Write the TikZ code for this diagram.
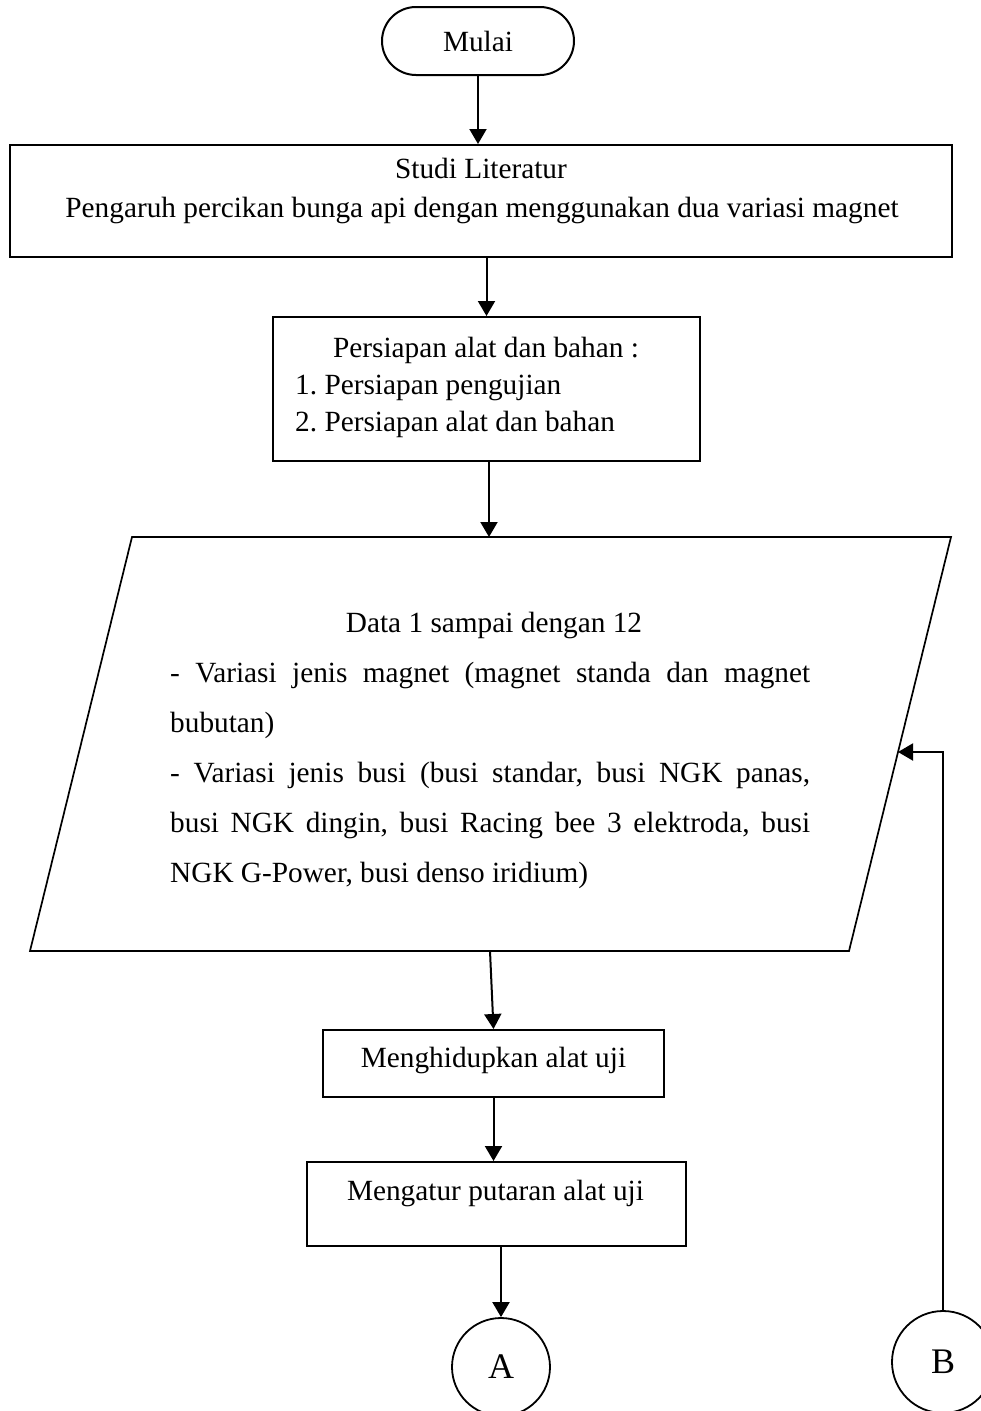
\documentclass[tikz,border=0pt]{standalone}
\usepackage{fontspec}
\setmainfont{Liberation Serif}
\usetikzlibrary{arrows.meta}
\frenchspacing
\begin{document}
\begin{tikzpicture}[x=1pt,y=-1pt,
  txt/.style={font=\fontsize{29.3}{35}\selectfont,inner sep=0pt},
  boxnode/.style={draw,line width=2pt,inner sep=0pt},
  arr/.style={line width=2pt,-{Triangle[width=17pt,length=15pt]}},
  conn/.style={draw,circle,line width=1.8pt,inner sep=0pt,font=\fontsize{36}{40}\selectfont},
  para/.style={line width=1.7pt}]
\useasboundingbox (0,0) rectangle (981,1411);
\clip (0,0) rectangle (981,1411);

% Terminator
\node[boxnode,rounded corners=34pt,minimum width=192pt,minimum height=68pt,txt] (mulai) at (478,41) {Mulai};

% Studi literatur
\node[boxnode,minimum width=942pt,minimum height=112pt] (studi) at (481,201) {};
\node[txt,anchor=base] (studiA) at (481,178) {Studi Literatur};
\node[txt,anchor=base] (studiB) at (482,217) {Pengaruh percikan bunga api dengan menggunakan dua variasi magnet};

% Persiapan
\node[boxnode,minimum width=427pt,minimum height=144pt] (prep) at (486.5,389) {};
\node[txt,anchor=base] (prepA) at (486,357) {Persiapan alat dan bahan :};
\node[txt,anchor=base west] (prepB) at (295,394) {1. Persiapan pengujian};
\node[txt,anchor=base west] (prepC) at (295,431) {2. Persiapan alat dan bahan};

% Parallelogram (data)
\coordinate (p1) at (132,537);
\coordinate (p2) at (951,537);
\coordinate (p3) at (849,951);
\coordinate (p4) at (30,951);
\coordinate (ptop) at (489,537);
\coordinate (pbot) at (490,951);
\coordinate (pin) at (898,752);
\draw[para] (p1) -- (p2) -- (p3) -- (p4) -- cycle;
\node[txt,anchor=base] (d0) at (494,632) {Data 1 sampai dengan 12};
\node[txt,anchor=base west] (d1) at (170,682) {\makebox[640pt][s]{- Variasi jenis magnet (magnet standa dan magnet}};
\node[txt,anchor=base west] (d2) at (170,732) {bubutan)};
\node[txt,anchor=base west] (d3) at (170,782) {\makebox[640pt][s]{- Variasi jenis busi (busi standar, busi NGK panas,}};
\node[txt,anchor=base west] (d4) at (170,832) {\makebox[640pt][s]{busi NGK dingin, busi Racing bee 3 elektroda, busi}};
\node[txt,anchor=base west] (d5) at (170,882) {NGK G-Power, busi denso iridium)};

% Menghidupkan
\node[boxnode,minimum width=341pt,minimum height=67pt] (m1) at (493.5,1063.5) {};
\node[txt,anchor=base] (m1T) at (493.5,1067) {Menghidupkan alat uji};

% Mengatur
\node[boxnode,minimum width=379pt,minimum height=84pt] (m2) at (496.5,1204) {};
\node[txt,anchor=base] (m2T) at (495.5,1200) {Mengatur putaran alat uji};

% Connectors
\node[conn,minimum size=98pt] (A) at (501,1367) {A};
\node[conn,minimum size=102pt] (B) at (943,1362) {B};

\draw[arr] (mulai.south) -- (mulai.south |- studi.north);
\draw[arr] (studi.south -| prep.north) -- (prep.north);
\draw[arr] (prep.south -| ptop) -- (ptop);
\draw[arr] (pbot) -- (m1.north);
\draw[arr] (m1.south) -- (m1.south |- m2.north);
\draw[arr] (A.north |- m2.south) -- (A.north);
\draw[arr] (B.north) |- (pin);
\end{tikzpicture}
\end{document}
